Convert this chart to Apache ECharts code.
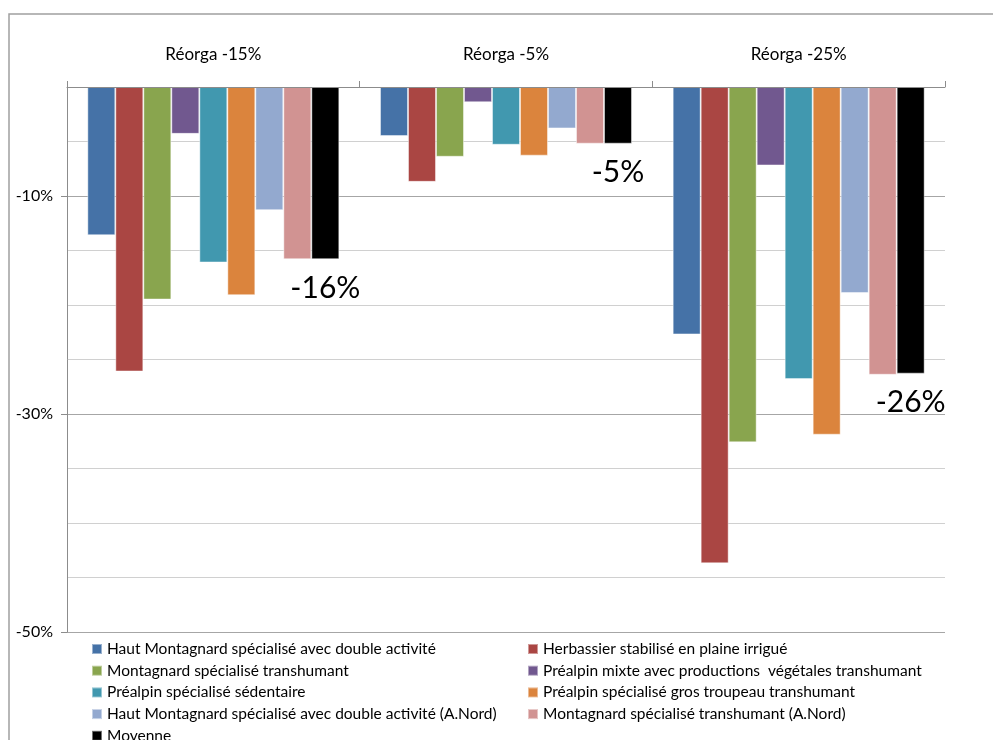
<!DOCTYPE html>
<html>
<head>
<meta charset="utf-8">
<script src="https://cdn.jsdelivr.net/npm/echarts@6/dist/echarts.min.js"></script>
<style>html,body{margin:0;padding:0;background:#fff}#c{width:993px;height:740px}</style>
</head>
<body>
<div id="c"></div>
<script>
const categories = ['Réorga -15%', 'Réorga -5%', 'Réorga -25%'];
const seriesNames = [
  'Haut Montagnard spécialisé avec double activité',
  'Herbassier stabilisé en plaine irrigué',
  'Montagnard spécialisé transhumant',
  'Préalpin mixte avec productions  végétales transhumant',
  'Préalpin spécialisé sédentaire',
  'Préalpin spécialisé gros troupeau transhumant',
  'Haut Montagnard spécialisé avec double activité (A.Nord)',
  'Montagnard spécialisé transhumant (A.Nord)',
  'Moyenne'
];
const hautMontagnard      = [-13.6, -4.5, -22.7];
const herbassier          = [-26.1, -8.7, -43.7];
const montagnard          = [-19.5, -6.4, -32.6];
const prealpinMixte       = [-4.3, -1.4, -7.2];
const prealpinSedentaire  = [-16.1, -5.3, -26.8];
const prealpinGros        = [-19.1, -6.3, -31.9];
const hautMontagnardNord  = [-11.3, -3.8, -18.9];
const montagnardNord      = [-15.8, -5.2, -26.4];
const moyenne             = [-15.8, -5.2, -26.3];
const yTickLabels = [-50, -30, -10];

const seriesValues = [hautMontagnard, herbassier, montagnard, prealpinMixte, prealpinSedentaire,
  prealpinGros, hautMontagnardNord, montagnardNord, moyenne];
const colors = ['#4572A7', '#AA4643', '#89A54E', '#71588F', '#4198AF', '#DB843D', '#93A9CF', '#D19392', '#000000'];

const FONT = 'Lato, Carlito, Calibri, sans-serif';
const chart = echarts.init(document.getElementById('c'), null, {renderer: 'canvas'});

const series = seriesValues.map((vals, i) => {
  const s = {
    name: seriesNames[i],
    type: 'bar',
    data: vals,
    yAxisIndex: 0,
    barWidth: 28,
    barGap: '0%',
    itemStyle: {color: colors[i], borderColor: 'rgba(255,255,255,0.45)', borderWidth: 1},
    animation: false
  };
  if (i === seriesValues.length - 1) {
    s.label = {
      show: true,
      position: 'bottom',
      distance: 14,
      fontFamily: FONT,
      fontSize: 30,
      color: '#000',
      formatter: p => Math.round(p.value) + '%'
    };
  }
  return s;
});

const legendStyle = {
  orient: 'vertical',
  icon: 'rect',
  itemWidth: 10,
  itemHeight: 10,
  itemGap: 5.7,
  top: 641,
  height: 160,
  padding: 0,
  textStyle: {fontFamily: FONT, fontSize: 15.5, lineHeight: 14, color: '#000'},
  selectedMode: false
};

chart.setOption({
  backgroundColor: '#fff',
  color: colors,
  animation: false,
  graphic: [{
    type: 'rect',
    shape: {x: 9, y: 14, width: 1200, height: 900},
    style: {fill: null, stroke: '#a0a0a0', lineWidth: 1.5},
    silent: true
  }],
  grid: {left: 67, right: 48, top: 87, bottom: 108, containLabel: false},
  legend: [
    Object.assign({left: 91, data: seriesNames.filter((_, i) => i % 2 === 0)}, legendStyle),
    Object.assign({left: 527, data: seriesNames.filter((_, i) => i % 2 === 1)}, legendStyle)
  ],
  xAxis: {
    type: 'category',
    position: 'top',
    data: categories,
    axisLine: {show: true, lineStyle: {color: '#8c8c8c', width: 1}},
    axisTick: {show: true, length: 6, lineStyle: {color: '#8c8c8c'}},
    axisLabel: {fontFamily: FONT, fontSize: 17, color: '#000', margin: 24},
    z: 5
  },
  yAxis: [{
    type: 'value',
    min: -50,
    max: 0,
    interval: 5,
    axisLine: {show: false},
    axisTick: {show: false},
    axisLabel: {show: false},
    splitLine: {show: true, lineStyle: {color: ['#a6a6a6', '#d0d0d0', '#d0d0d0', '#d0d0d0'], width: 1}}
  }, {
    type: 'value',
    position: 'left',
    offset: 0,
    min: -50,
    max: 0,
    interval: 5,
    axisLine: {show: true, onZero: false, lineStyle: {color: '#8c8c8c', width: 1}},
    axisTick: {show: true, length: 6, lineStyle: {color: '#8c8c8c'}, customValues: yTickLabels},
    axisLabel: {fontFamily: FONT, fontSize: 16, color: '#000', margin: 14,
      customValues: yTickLabels, formatter: v => v + '%'},
    splitLine: {show: false}
  }],
  series: series
});
</script>
</body>
</html>
